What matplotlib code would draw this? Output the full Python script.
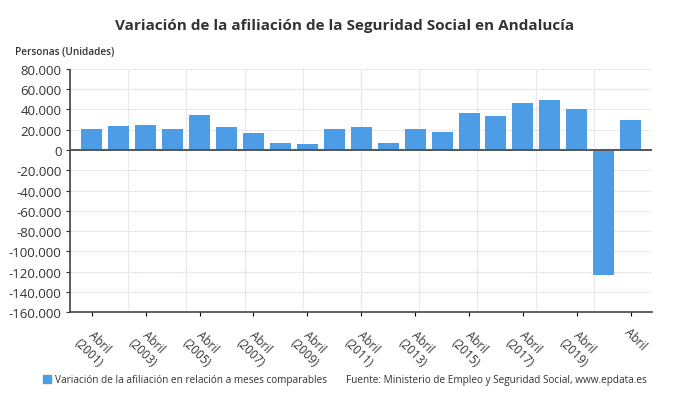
import numpy as np
import matplotlib.pyplot as plt
from matplotlib.ticker import FuncFormatter

plt.rcParams['font.family'] = ['Open Sans', 'DejaVu Sans']

years = list(range(2001, 2022))
values = [20500, 23700, 24700, 21000, 34300, 22400, 16800, 6900, 6200, 20700,
          22400, 7000, 21000, 17800, 36500, 33300, 46000, 49000, 40800, -123500, 29600]
tick_labels = ['Abril\n(%d)' % y for y in years[:-1:2]] + ['Abril']

bar_color = '#4d9de6'
grid_color = '#d6d3e0'

fig = plt.figure(figsize=(6.9, 4.06), dpi=100)
ax = fig.add_axes([0.1014, 0.229, 0.8435, 0.5986])

x = np.arange(len(years))
ax.bar(x, values, width=0.78, color=bar_color, zorder=3)
ax.axhline(0, color='#555555', lw=1.4, zorder=4)

ax.set_xlim(-0.81, 20.79)
ax.set_ylim(-160000, 80000)
ax.set_yticks(np.arange(-160000, 80001, 20000))
ax.yaxis.set_major_formatter(FuncFormatter(lambda v, p: f'{int(v):,}'.replace(',', '.')))
ax.tick_params(axis='y', labelsize=9.5, colors='#333333', length=3, width=0.8, pad=3)
ax.grid(axis='y', color=grid_color, linestyle=(0, (1.2, 1.2)), lw=0.8, zorder=0)

ax.set_xticks(x[::2])
ax.set_xticklabels(tick_labels, rotation=-45, ha='left', va='top',
                   rotation_mode='anchor', multialignment='center',
                   fontsize=8.5, color='#333333')
ax.tick_params(axis='x', length=3, width=0.8, pad=6)

# vertical grid lines independent of the categories
ax2 = ax.twiny()
ax2.set_xlim(ax.get_xlim())
ax2.set_xticks(np.linspace(-0.81, 20.79, 11))
ax2.tick_params(axis='x', length=0, labeltop=False)
ax2.grid(axis='x', color=grid_color, linestyle=(0, (1.2, 1.2)), lw=0.8)
ax2.set_zorder(0)
ax.set_zorder(1)
ax.patch.set_visible(False)

for a in (ax, ax2):
    for s in a.spines.values():
        s.set_visible(False)
ax.spines['bottom'].set_visible(True)
ax.spines['bottom'].set_color('#444444')
ax.spines['bottom'].set_linewidth(1.2)
ax.spines['left'].set_visible(True)
ax.spines['left'].set_color('#444444')
ax.spines['left'].set_linestyle((0, (1, 1)))
ax.spines['left'].set_linewidth(1.2)

fig.text(0.5, 0.935, 'Variación de la afiliación de la Seguridad Social en Andalucía',
         ha='center', va='center', fontsize=11, fontweight='bold', color='#333333')
fig.text(0.022, 0.87, 'Personas (Unidades)', ha='left', va='center',
         fontsize=7.2, fontweight='semibold', color='#333333')

fig.patches.append(plt.Rectangle((0.063, 0.053), 0.0115, 0.02, transform=fig.transFigure,
                                 color=bar_color, figure=fig))
fig.text(0.079, 0.062, 'Variación de la afiliación en relación a meses comparables',
         ha='left', va='center', fontsize=7.2, color='#333333')
fig.text(0.502, 0.062, 'Fuente: Ministerio de Empleo y Seguridad Social, www.epdata.es',
         ha='left', va='center', fontsize=7.2, color='#333333')

fig.savefig('out.png', dpi=100, facecolor='white')
